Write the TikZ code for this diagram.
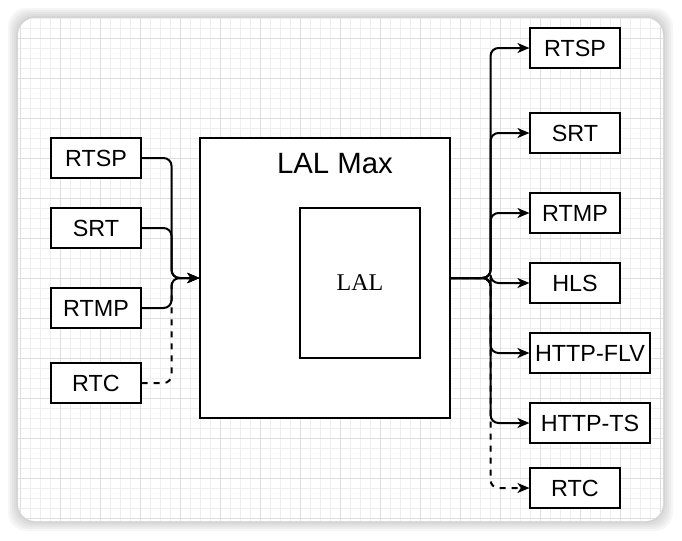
\documentclass[tikz,border=0pt]{standalone}
\usepackage{fontspec}
\setmainfont{Liberation Sans}
\newfontfamily\serifface{Liberation Serif}
\usetikzlibrary{shapes,arrows.meta}
\definecolor{gridminor}{HTML}{EEEEEE}
\definecolor{gridmajor}{HTML}{DEDEDE}
\tikzset{flow/.style={line width=1.5pt, rounded corners=6pt,
    -{Stealth[length=9pt,width=7.5pt,inset=2.5pt]}}}

\begin{document}
\begin{tikzpicture}[x=0.75pt, y=-0.75pt,
    proto/.style = {draw, line width=0.8pt, fill=white,
      minimum width=67.5pt, minimum height=30pt, inner sep=0pt,
      font=\fontsize{17.5}{20}\selectfont},
    wideproto/.style = {proto, minimum width=90pt}]
  \useasboundingbox (0,0) rectangle (682,540);
  \foreach \s in {10,8,6,4,2}
    \fill[black, opacity=0.035, rounded corners=14pt] (18-\s,18-\s) rectangle (663+\s,521+\s);
  \fill[white, rounded corners=13pt] (18,18) rectangle (663,521);
  \begin{scope}
    \clip[rounded corners=13pt] (18,18) rectangle (663,521);
    \draw[gridminor, line width=0.6pt, shift={(20,38)}, step=7.5pt] (-20,500) grid (660,-40);
    \draw[gridmajor, line width=0.7pt, shift={(20,38)}, step=30pt] (-20,500) grid (660,-40);
  \end{scope}

  \node[proto] (inrtsp) at (96,158) {RTSP};
  \node[proto] (insrt) at (96,228) {SRT};
  \node[proto] (inrtmp) at (96,308) {RTMP};
  \node[proto] (inrtc) at (96,383) {RTC};

  \node[draw, line width=0.8pt, fill=white, minimum width=187.5pt,
    minimum height=210pt] (lalmax) at (325,278) {};
  \node[font=\fontsize{22}{26}\selectfont] (maxlabel) at (335,164) {LAL Max};
  \node[draw, line width=0.8pt, minimum width=90pt, minimum height=112.5pt,
    font=\serifface\fontsize{18}{22}\selectfont] (lal) at (360,283) {LAL};

  \node[proto] (outrtsp) at (575,48) {RTSP};
  \node[proto] (outsrt) at (575,133) {SRT};
  \node[proto] (outrtmp) at (575,213) {RTMP};
  \node[proto] (outhls) at (575,283) {HLS};
  \node[wideproto] (outflv) at (590,353) {HTTP-FLV};
  \node[wideproto] (outts) at (590,423) {HTTP-TS};
  \node[proto] (outrtc) at (575,488) {RTC};

  \draw[flow, dash pattern=on 4.5pt off 4.5pt] (inrtc.east) -- ++(30,0) |- (lalmax.west);
  \foreach \n in {inrtsp,insrt,inrtmp}
    \draw[flow] (\n.east) -- ++(30,0) |- (lalmax.west);
  \draw[flow, dash pattern=on 4.5pt off 4.5pt] (lalmax.east) -- ++(40,0) |- (outrtc.west);
  \foreach \n in {outrtsp,outsrt,outrtmp,outhls,outflv,outts}
    \draw[flow] (lalmax.east) -- ++(40,0) |- (\n.west);
\end{tikzpicture}
\end{document}
